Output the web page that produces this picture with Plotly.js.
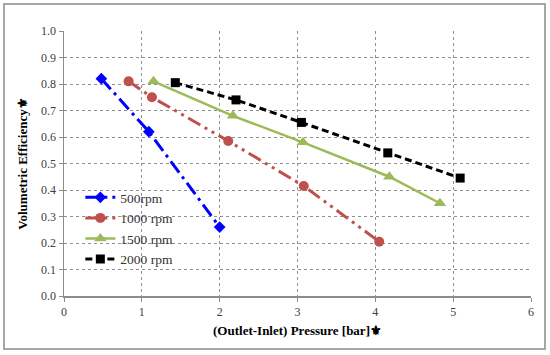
<!DOCTYPE html>
<html><head><meta charset="utf-8">
<script src="https://cdn.plot.ly/plotly-3.0.1.min.js"></script>
<style>html,body{margin:0;padding:0;background:#fff}#chart{width:550px;height:355px}</style>
</head><body><div id="chart"></div>
<script>
const seriesNames = ["500rpm", "1000 rpm", "1500 rpm", "2000 rpm"];
const x500 = [0.48, 1.09, 2.0];
const y500 = [0.82, 0.62, 0.26];
const x1000 = [0.83, 1.13, 2.11, 3.08, 4.05];
const y1000 = [0.81, 0.75, 0.585, 0.415, 0.205];
const x1500 = [1.15, 2.17, 3.07, 4.18, 4.83];
const y1500 = [0.81, 0.68, 0.58, 0.45, 0.35];
const x2000 = [1.43, 2.21, 3.05, 4.16, 5.09];
const y2000 = [0.805, 0.74, 0.655, 0.54, 0.445];
const xTicks = [0, 1, 2, 3, 4, 5, 6];
const yTicks = [0, 0.1, 0.2, 0.3, 0.4, 0.5, 0.6, 0.7, 0.8, 0.9, 1.0];

const traces = [
  {x: x500, y: y500, name: seriesNames[0], mode: "lines+markers",
   line: {color: "#0000FF", width: 3, dash: "14px,5px,3px,5px"},
   marker: {symbol: "diamond", size: 9, color: "#0000FF"}},
  {x: x1000, y: y1000, name: seriesNames[1], mode: "lines+markers",
   line: {color: "#C0504D", width: 3, dash: "14px,5px,3px,5px,3px,5px"},
   marker: {symbol: "circle", size: 10, color: "#C0504D"}},
  {x: x1500, y: y1500, name: seriesNames[2], mode: "lines+markers",
   line: {color: "#9BBB59", width: 2.5},
   marker: {symbol: "triangle-up", size: 11, color: "#9BBB59"}},
  {x: x2000, y: y2000, name: seriesNames[3], mode: "lines+markers",
   line: {color: "#000000", width: 3, dash: "7px,4px"},
   marker: {symbol: "square", size: 9, color: "#000000"}}
];

const axisCommon = {
  showgrid: true, gridcolor: "#8f8f8f", griddash: "dot", gridwidth: 1,
  showline: true, linecolor: "#8c8c8c", linewidth: 1.5,
  ticks: "outside", tickcolor: "#8c8c8c", ticklen: 4,
  tickfont: {family: "Liberation Serif", size: 12, color: "#404040"},
  zeroline: false, fixedrange: true
};

const layout = {
  width: 550, height: 355,
  margin: {l: 64, r: 19, t: 31, b: 59},
  paper_bgcolor: "#ffffff", plot_bgcolor: "#ffffff",
  showlegend: true,
  legend: {x: 0.035, y: 0.43, xanchor: "left", yanchor: "top",
           bgcolor: "rgba(255,255,255,0)", borderwidth: 0,
           font: {family: "Liberation Serif", size: 13.5, color: "#333"},
           tracegroupgap: 0, itemwidth: 30},
  xaxis: Object.assign({}, axisCommon, {
    range: [0, 6], tickvals: xTicks, ticktext: xTicks.map(String),
    title: {text: "(Outlet-Inlet) Pressure [bar]⚜",
            font: {family: "Liberation Serif", size: 13, color: "#000", weight: "bold"},
            standoff: 8}
  }),
  yaxis: Object.assign({}, axisCommon, {
    range: [0, 1.0], tickvals: yTicks, ticktext: yTicks.map(v => v.toFixed(1)),
    title: {text: "Volumetric Efficiency⚜",
            font: {family: "Liberation Serif", size: 13, color: "#000", weight: "bold"},
            standoff: 10}
  }),
  shapes: [{type: "rect", xref: "paper", yref: "paper",
            x0: -0.1285, x1: 1.03, y0: -0.2, y1: 1.102,
            line: {color: "#a6a6a6", width: 2}, fillcolor: "rgba(0,0,0,0)", layer: "below"}]
};

Plotly.newPlot("chart", traces, layout, {displayModeBar: false, staticPlot: true});
</script></body></html>
